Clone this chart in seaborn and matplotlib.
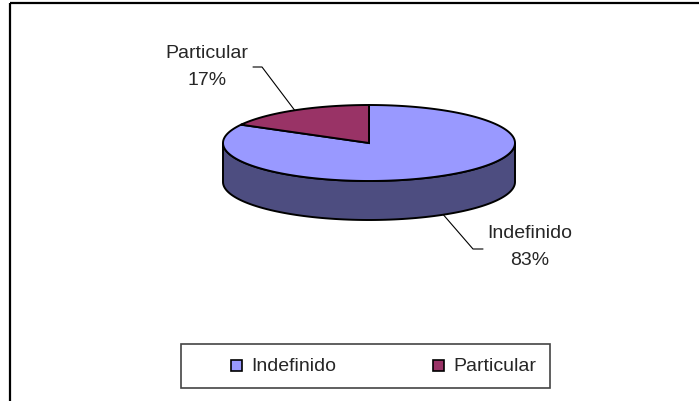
import numpy as np
import matplotlib.pyplot as plt
import seaborn as sns
from matplotlib.patches import Polygon, Rectangle
from matplotlib.lines import Line2D

sns.set_style("white")
plt.rcParams["font.family"] = ["Liberation Sans", "DejaVu Sans"]

labels = ["Indefinido", "Particular"]
values = [83, 17]
top_colors = ["#9999ff", "#993366"]
side_colors = ["#4d4d80", "#4d1a33"]

# pie geometry (pixel-like coords, y down)
cx, cy, rx, ry, depth = 369, 144, 146, 38, 39


def ell(t):
    t = np.radians(t)
    return cx + rx * np.cos(t), cy - ry * np.sin(t)


fig = plt.figure(figsize=(6.99, 4.02), dpi=100)
ax = fig.add_axes([0, 0, 1, 1])
ax.set_xlim(0, 699)
ax.set_ylim(402, 0)
ax.axis("off")

# outer chart frame
ax.add_patch(Rectangle((10, 4), 720, 430, fill=False, ec="black", lw=1.6))

# wedge angles, clockwise from 12 o'clock
fracs = np.array(values) / sum(values)
ends = 90 - np.cumsum(fracs) * 360
starts = np.concatenate([[90], ends[:-1]])

# side walls (front half only)
for s, e, col in zip(starts, ends, side_colors):
    lo, hi = e, s
    for off in (0, -360, 360):
        a, b = max(lo, -180 + off), min(hi, 0 + off)
        if a < b:
            t = np.linspace(a, b, 100)
            x, y = ell(t)
            pts = np.column_stack([np.r_[x, x[::-1]], np.r_[y, (y + depth)[::-1]]])
            ax.add_patch(Polygon(pts, closed=True, fc=col, ec="black", lw=1.4, zorder=2))

# top faces
for s, e, col in zip(starts, ends, top_colors):
    t = np.linspace(s, e, 200)
    x, y = ell(t)
    pts = np.column_stack([np.r_[cx, x], np.r_[cy, y]])
    ax.add_patch(Polygon(pts, closed=True, fc=col, ec="black", lw=1.4, zorder=3))

# data labels with leader lines
label_pos = {"Indefinido": (530, 247), "Particular": (207, 67)}
elbow = {"Indefinido": (483, 473), "Particular": (253, 262)}
for lab, v, s, e in zip(labels, values, starts, ends):
    mid = (s + e) / 2
    px, py = ell(mid)
    if np.sin(np.radians(mid)) < 0:
        py += depth
    tx, ty = label_pos[lab]
    x0, x1 = elbow[lab]
    ly = 250 if lab == "Indefinido" else 68
    ax.add_line(Line2D([x0, x1, px], [ly, ly, py], color="black", lw=0.8, zorder=4))
    ax.text(tx, ty, f"{lab}\n{v}%", ha="center", va="center", fontsize=14,
            linespacing=1.8, zorder=5)

# legend (drawn by hand to match the Excel layout)
ax.add_patch(Rectangle((181, 345), 369, 44, fill=False, ec="#444444", lw=1.2))
for lab, col, mx in zip(labels, top_colors, [231, 433]):
    ax.add_patch(Rectangle((mx, 361), 11, 11, fc=col, ec="black", lw=1.2))
    ax.text(mx + 20, 367, lab, ha="left", va="center", fontsize=14)

fig.savefig("out.png", dpi=100)
